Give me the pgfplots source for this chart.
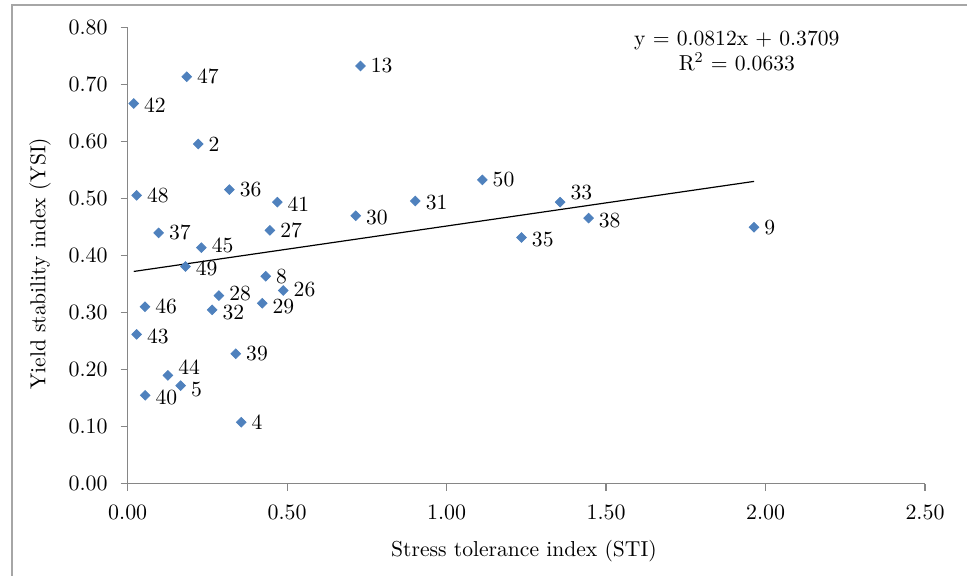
\documentclass[border=0pt]{standalone}
\usepackage{pgfplots}
\usepackage{pgfplotstable}
\pgfplotsset{compat=1.18}
\definecolor{markblue}{HTML}{4F81BD}
\definecolor{axisgray}{HTML}{868686}
\definecolor{framegray}{HTML}{A6A6A6}
\pgfplotstableread{
x y lab dy
0.019 0.667 42 -1
0.185 0.714 47 0
0.221 0.596 2 0
0.028 0.506 48 0
0.319 0.516 36 0
0.469 0.494 41 -1
0.097 0.440 37 0
0.231 0.414 45 1
0.446 0.4445 27 0
0.181 0.381 49 -1
0.433 0.364 8 0
0.488 0.339 26 0.5
0.286 0.330 28 1
0.422 0.3165 29 -1.5
0.265 0.305 32 -1.5
0.054 0.3105 46 0
0.028 0.262 43 -1
0.339 0.228 39 0
0.126 0.190 44 4
0.166 0.172 5 -1.8
0.055 0.155 40 -1
0.356 0.108 4 0
0.730 0.733 13 0
1.112 0.533 50 0
0.902 0.496 31 -1
0.715 0.470 30 -1
1.356 0.494 33 5
1.445 0.466 38 -1
1.235 0.432 35 -1
1.964 0.450 9 0
}\data
\begin{document}
\begin{tikzpicture}
\path[use as bounding box] (-63.85pt,-45.65pt) rectangle (419.65pt,241.85pt);
\draw[framegray, line width=0.8pt] (-57.85pt,-50pt) -- (-57.85pt,239.35pt) -- (425pt,239.35pt);
\begin{axis}[
  at={(0pt,0pt)}, anchor=origin,
  scale only axis, width=398.65pt, height=228pt,
  xmin=0, xmax=2.5, ymin=0, ymax=0.8,
  axis x line*=bottom, axis y line*=left,
  axis line style={draw=axisgray, line width=0.6pt, -},
  xtick={0,0.5,1,1.5,2,2.5},
  ytick={0,0.1,0.2,0.3,0.4,0.5,0.6,0.7,0.8},
  tick align=outside, major tick length=3.5pt,
  tick style={draw=axisgray, line width=0.6pt},
  minor tick num=0,
  clip=false,
  font=\fontsize{10.8}{12.5}\selectfont,
  tick label style={font=\fontsize{10.8}{12.5}\selectfont},
  xticklabel style={yshift=-4pt, /pgf/number format/.cd, fixed, fixed zerofill, precision=2},
  yticklabel style={xshift=-3pt, /pgf/number format/.cd, fixed, fixed zerofill, precision=2},
  every axis y label/.style={at={(axis description cs:-0.110,0.4825)}, rotate=90, anchor=center},
  every axis x label/.style={at={(axis description cs:0.497,0)}, yshift=-33.5pt, anchor=center},
  xlabel={Stress tolerance index (STI)},
  ylabel={Yield stability index (YSI)},
]
\addplot[black, line width=0.6pt] coordinates {(0.019,0.3724) (1.964,0.5304)};
\addplot[only marks, mark=square*, mark size=1.7pt, color=markblue,
  mark options={rotate=45, draw=markblue, fill=markblue},
  nodes near coords, point meta=explicit symbolic,
  visualization depends on={\thisrow{dy}\as\dy},
  every node near coord/.append style={anchor=west, xshift=4.5pt, yshift=\dy pt, inner sep=0.5pt, text=black, font=\fontsize{10.8}{12.5}\selectfont}]
  table[x=x, y=y, meta=lab] {\data};
\node[align=center, font=\fontsize{10.8}{12.5}\selectfont, inner sep=0pt] at (axis cs:1.91,0.760) {y = 0.0812x + 0.3709\\R\textsuperscript{2} = 0.0633};
\end{axis}
\end{tikzpicture}
\end{document}
